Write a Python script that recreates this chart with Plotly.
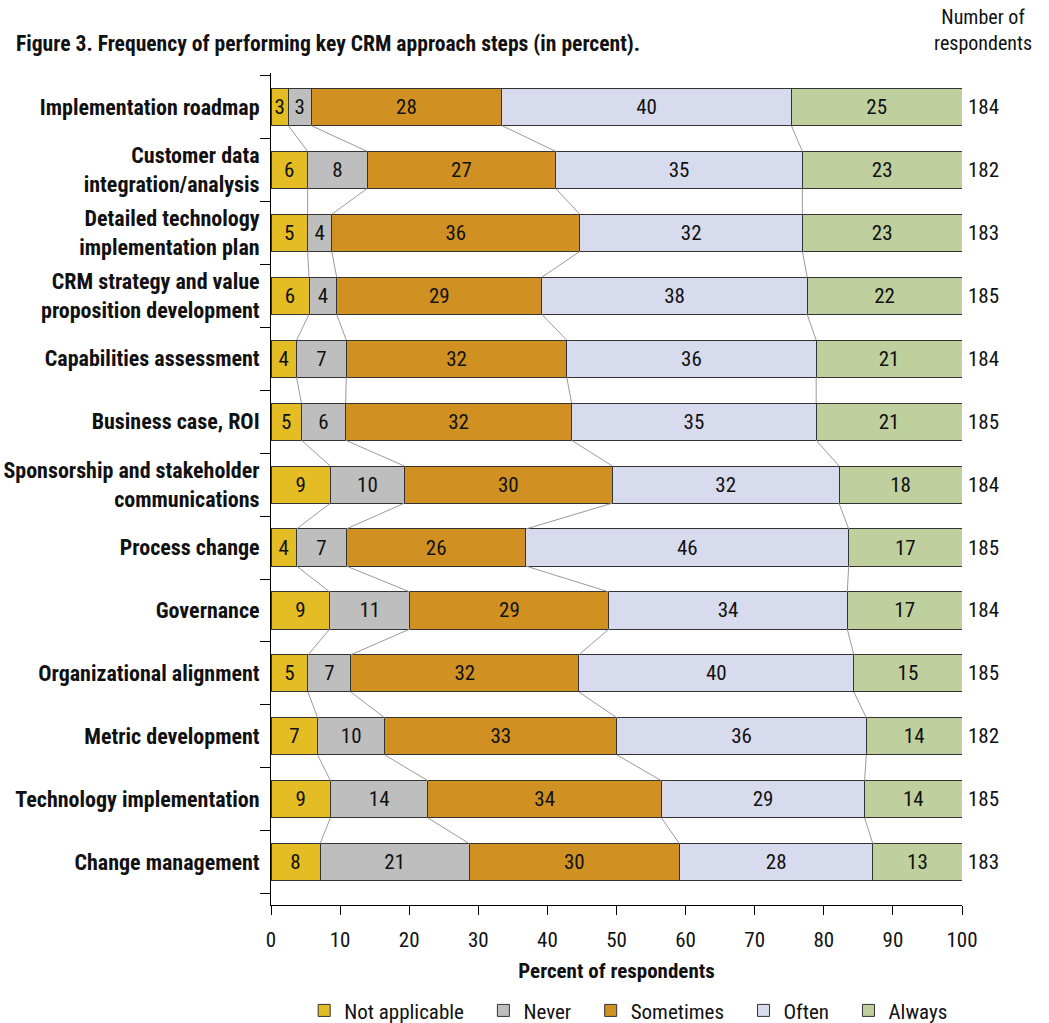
import plotly.graph_objects as go

categories = [
    "Implementation roadmap",
    "Customer data<br>integration/analysis",
    "Detailed technology<br>implementation plan",
    "CRM strategy and value<br>proposition development",
    "Capabilities assessment",
    "Business case, ROI",
    "Sponsorship and stakeholder<br>communications",
    "Process change",
    "Governance",
    "Organizational alignment",
    "Metric development",
    "Technology implementation",
    "Change management",
]

series_names = ["Not applicable", "Never", "Sometimes", "Often", "Always"]

# bar widths (percent, as drawn)
not_applicable = [2.5, 5.3, 5.3, 5.5, 3.7, 4.4, 8.6, 3.7, 8.5, 5.35, 6.75, 8.6, 7.1]
never = [3.3, 8.6, 3.5, 4.0, 7.2, 6.4, 10.7, 7.2, 11.6, 6.2, 9.7, 14.1, 21.6]
sometimes = [27.6, 27.3, 35.9, 29.7, 31.9, 32.7, 30.1, 26.0, 28.8, 33.0, 33.6, 33.8, 30.4]
often = [41.9, 35.7, 32.2, 38.4, 36.1, 35.4, 32.8, 46.7, 34.5, 39.8, 36.1, 29.4, 28.0]
always = [24.7, 23.1, 23.1, 22.4, 21.1, 21.1, 17.8, 16.4, 16.6, 15.65, 13.85, 14.1, 12.9]

# printed labels
not_applicable_lbl = [3, 6, 5, 6, 4, 5, 9, 4, 9, 5, 7, 9, 8]
never_lbl = [3, 8, 4, 4, 7, 6, 10, 7, 11, 7, 10, 14, 21]
sometimes_lbl = [28, 27, 36, 29, 32, 32, 30, 26, 29, 32, 33, 34, 30]
often_lbl = [40, 35, 32, 38, 36, 35, 32, 46, 34, 40, 36, 29, 28]
always_lbl = [25, 23, 23, 22, 21, 21, 18, 17, 17, 15, 14, 14, 13]

respondents = [184, 182, 183, 185, 184, 185, 184, 185, 184, 185, 182, 185, 183]

colors = ["#E4BC24", "#BEBEBE", "#D09122", "#D8DBED", "#BFCF9E"]

FONT = "Roboto Condensed, Liberation Sans Narrow, Roboto, Liberation Sans, sans-serif"

values = [not_applicable, never, sometimes, often, always]
labels = [not_applicable_lbl, never_lbl, sometimes_lbl, often_lbl, always_lbl]
ypos = list(range(len(categories)))
bar_w = 0.59

fig = go.Figure()

# connecting lines between segment boundaries
cum = []
running = [0.0] * len(categories)
for vals in values:
    running = [r + v for r, v in zip(running, vals)]
    cum.append(list(running))
for k in range(4):
    xs, ys = [], []
    for i in range(len(categories) - 1):
        xs += [cum[k][i], cum[k][i + 1], None]
        ys += [i + bar_w / 2, i + 1 - bar_w / 2, None]
    fig.add_trace(go.Scatter(x=xs, y=ys, mode="lines", line=dict(color="#9A9A9A", width=1),
                             showlegend=False, hoverinfo="skip"))

# a little extra spacing between legend entries
legend_names = [n + "\u00a0\u00a0\u00a0" if i < len(series_names) - 1 else n
                for i, n in enumerate(series_names)]

for name, vals, lbls, col in zip(legend_names, values, labels, colors):
    fig.add_trace(go.Bar(
        y=ypos, x=vals, orientation="h", name=name, width=bar_w,
        marker=dict(color=col, line=dict(color="#333333", width=1)),
        text=[str(v) for v in lbls], textposition="inside", insidetextanchor="middle",
        textangle=0, constraintext="none", cliponaxis=False,
        textfont=dict(family=FONT, size=21, color="#111111"),
    ))

annotations = [
    dict(text="Figure 3. Frequency of performing key CRM approach steps (in percent).",
         xref="paper", yref="paper", x=-0.372, y=1.035, xanchor="left", yanchor="middle",
         showarrow=False, font=dict(family=FONT, size=21.6, weight="bold", color="#111111")),
    dict(text="Number of<br>respondents", xref="paper", yref="paper", x=1.03, y=1.052,
         xanchor="center", yanchor="middle", showarrow=False,
         font=dict(family=FONT, size=20, color="#111111")),
]
for yy, r in zip(ypos, respondents):
    annotations.append(dict(text=str(r), x=100, y=yy, xref="x", yref="y", xanchor="left",
                            yanchor="middle", xshift=4, showarrow=False,
                            font=dict(family=FONT, size=21, color="#111111")))

fig.update_layout(
    width=1049, height=1023,
    margin=dict(l=271, r=87, t=73, b=118),
    barmode="stack",
    plot_bgcolor="white", paper_bgcolor="white",
    uniformtext=dict(minsize=21, mode="show"),
    font=dict(family=FONT, size=20, color="#111111"),
    legend=dict(orientation="h", x=0.048, xanchor="left", xref="paper",
                y=0.032, yanchor="top", yref="container",
                font=dict(family=FONT, size=21), traceorder="normal"),
    annotations=annotations,
)

fig.update_xaxes(range=[0, 100], dtick=10, tick0=0, ticks="outside", ticklen=9,
                 tickcolor="black", showline=True, linecolor="black", linewidth=1,
                 showgrid=False, zeroline=False, automargin=False, ticklabelstandoff=7,
                 tickfont=dict(family=FONT, size=21),
                 title=dict(text="Percent of respondents",
                            font=dict(family=FONT, size=21, weight="bold"), standoff=12))

fig.update_yaxes(range=[12.68, -0.54], tickmode="array", tickvals=ypos, ticktext=categories,
                 ticks="", showline=True, linecolor="black", linewidth=1,
                 showgrid=False, zeroline=False, ticklabelstandoff=6, automargin=False,
                 tickfont=dict(family=FONT, size=22, weight="bold"),
                 minor=dict(tickmode="array", tickvals=[i - 0.5 for i in range(len(categories) + 1)],
                            ticks="outside", ticklen=10, tickcolor="black", tickwidth=1,
                            showgrid=False))

fig.write_html("out.html")
